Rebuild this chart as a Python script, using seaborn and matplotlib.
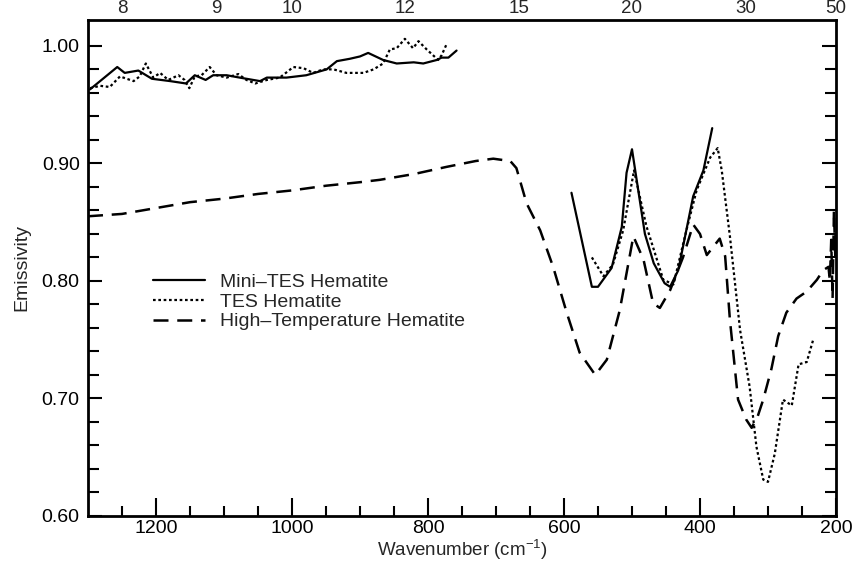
import numpy as np
import pandas as pd
import matplotlib
matplotlib.use("Agg")
import matplotlib.pyplot as plt
import seaborn as sns

sns.set_style("ticks")
plt.rcParams['font.family'] = ['Liberation Sans', 'DejaVu Sans']
plt.rcParams['mathtext.fontset'] = 'custom'
plt.rcParams['mathtext.rm'] = 'Liberation Sans'

# Mini-TES hematite (two pieces)
mini_wn_a = [1297, 1257, 1246, 1226, 1206, 1179, 1156, 1143, 1127, 1116, 1096, 1077, 1047,
             1037, 1008, 979, 949, 934, 915, 900, 888, 866, 846, 821, 807, 787, 780, 770, 758]
mini_em_a = [0.963, 0.982, 0.977, 0.979, 0.972, 0.970, 0.968, 0.975, 0.971, 0.975, 0.975, 0.973,
             0.970, 0.973, 0.973, 0.975, 0.980, 0.987, 0.989, 0.991, 0.994, 0.988, 0.985, 0.986,
             0.985, 0.988, 0.990, 0.990, 0.996]
mini_wn_b = [589, 559, 550, 530, 515, 508, 500, 481, 468, 452, 444, 432, 410, 395, 382]
mini_em_b = [0.875, 0.795, 0.795, 0.811, 0.846, 0.892, 0.912, 0.840, 0.815, 0.798, 0.795,
             0.809, 0.872, 0.894, 0.930]

# TES hematite (two pieces)
tes_wn_a = [1297, 1282, 1268, 1253, 1233, 1224, 1215, 1204, 1194, 1182, 1167, 1158, 1151, 1143,
            1133, 1121, 1111, 1096, 1079, 1067, 1054, 1037, 1018, 998, 983, 969, 954, 939, 920,
            895, 880, 866, 856, 846, 834, 822, 814, 802, 785, 780, 773]
tes_em_a = [0.964, 0.966, 0.965, 0.974, 0.970, 0.974, 0.985, 0.973, 0.977, 0.971, 0.975, 0.971,
            0.964, 0.974, 0.975, 0.982, 0.975, 0.973, 0.976, 0.971, 0.968, 0.971, 0.973, 0.982,
            0.981, 0.977, 0.980, 0.980, 0.977, 0.977, 0.980, 0.985, 0.997, 0.998, 1.006, 0.998,
            1.004, 0.997, 0.988, 0.992, 1.001]
tes_wn_b = [559, 542, 528, 513, 497, 479, 454, 439, 420, 405, 385, 374, 368, 356, 341, 327,
            317, 307, 300, 290, 278, 265, 255, 243, 233]
tes_em_b = [0.820, 0.804, 0.814, 0.843, 0.894, 0.847, 0.801, 0.797, 0.843, 0.877, 0.905, 0.913,
            0.894, 0.838, 0.758, 0.710, 0.659, 0.631, 0.629, 0.653, 0.699, 0.694, 0.729, 0.731,
            0.751]

# High-temperature hematite
ht_wn = [1300, 1250, 1200, 1150, 1100, 1050, 1000, 950, 900, 871, 820, 773, 730, 704, 679, 670,
         655, 635, 616, 596, 577, 554, 537, 518, 498, 483, 469, 459, 444, 425, 410, 400, 390,
         371, 363, 356, 344, 332, 324, 315, 307, 295, 285, 273, 258, 243, 228, 219, 211, 209,
         207, 205, 203, 201, 200]
ht_em = [0.855, 0.857, 0.862, 0.867, 0.870, 0.874, 0.877, 0.881, 0.884, 0.886, 0.891, 0.897,
         0.902, 0.904, 0.902, 0.896, 0.866, 0.843, 0.812, 0.773, 0.739, 0.720, 0.733, 0.775,
         0.838, 0.818, 0.781, 0.777, 0.792, 0.820, 0.848, 0.840, 0.822, 0.836, 0.821, 0.767,
         0.699, 0.682, 0.675, 0.685, 0.699, 0.725, 0.753, 0.773, 0.785, 0.791, 0.801, 0.809,
         0.812, 0.800, 0.835, 0.785, 0.860, 0.820, 0.845]

wl_ticks = [8, 9, 10, 12, 15, 20, 30, 50]

fig = plt.figure(figsize=(8.52, 5.62), dpi=100)
ax = fig.add_axes([0.1033, 0.0819, 0.8779, 0.8825])

solid = dict(color='black', linewidth=1.6)
dotted = dict(color='black', linewidth=1.6, linestyle=(0, (1.2, 1.2)))
dashed = dict(color='black', linewidth=1.8, linestyle=(0, (6, 3.5)))

sns.lineplot(x=mini_wn_a, y=mini_em_a, sort=False, ax=ax, label='Mini\u2013TES Hematite', **solid)
sns.lineplot(x=mini_wn_b, y=mini_em_b, sort=False, ax=ax, **solid)
sns.lineplot(x=tes_wn_a, y=tes_em_a, sort=False, ax=ax, label='TES Hematite', **dotted)
sns.lineplot(x=tes_wn_b, y=tes_em_b, sort=False, ax=ax, **dotted)
sns.lineplot(x=ht_wn, y=ht_em, sort=False, ax=ax, label='High\u2013Temperature Hematite', **dashed)

fs = 14
ax.set_xlim(1300, 200)
ax.set_ylim(0.60, 1.022)
ax.set_xticks([1200, 1000, 800, 600, 400, 200])
ax.set_xticks(np.arange(250, 1300, 50), minor=True)
ax.set_yticks([0.60, 0.70, 0.80, 0.90, 1.00])
ax.set_yticklabels(['0.60', '0.70', '0.80', '0.90', '1.00'])
ax.set_yticks(np.arange(0.62, 1.02, 0.02), minor=True)
ax.tick_params(which='both', direction='in', top=True, right=True, width=1.5,
               labelsize=fs, colors='black')
ax.tick_params(axis='x', which='major', length=13, pad=3)
ax.tick_params(axis='x', which='minor', length=7)
ax.tick_params(axis='y', which='major', length=10, pad=6)
ax.tick_params(axis='y', which='minor', length=8)
for s in ax.spines.values():
    s.set_linewidth(2)
    s.set_color('black')

ax.set_xlabel('Wavenumber (cm$^{-1}$)', fontsize=13.5, labelpad=0)
ax.set_ylabel('Emissivity', fontsize=fs, labelpad=8)

# top axis in microns
top = ax.twiny()
top.set_xlim(ax.get_xlim())
top.set_xticks([10000 / w for w in wl_ticks])
top.set_xticklabels([str(w) for w in wl_ticks])
top.tick_params(axis='x', length=0, pad=2, labelsize=13.5)
for s in top.spines.values():
    s.set_visible(False)

leg = ax.legend(loc='center left', bbox_to_anchor=(0.0735, 0.4315), frameon=False, fontsize=fs,
                handlelength=2.68, labelspacing=0.1, handletextpad=0.77, borderpad=0)

fig.savefig('out.png', dpi=100)
